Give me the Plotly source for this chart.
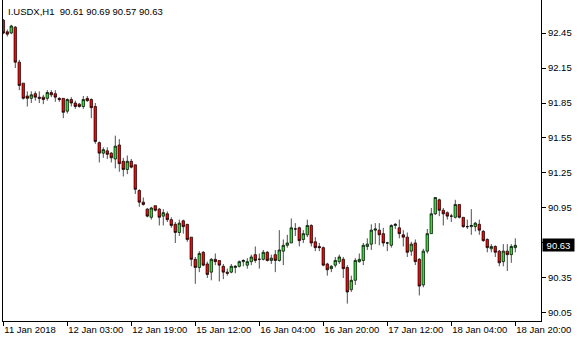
import plotly.graph_objects as go

symbol = "I.USDX,H1"

opens = [92.56, 92.46, 92.45, 92.50, 92.20, 92.02, 91.91, 91.89, 91.93, 91.90,
         91.90, 91.89, 91.94, 91.93, 91.89, 91.89, 91.78, 91.88, 91.85, 91.84,
         91.82, 91.89, 91.88, 91.82, 91.51, 91.42, 91.44, 91.42, 91.37, 91.49,
         91.35, 91.28, 91.35, 91.32, 91.10, 91.00, 90.94, 90.87, 90.97, 90.94,
         90.88, 90.90, 90.85, 90.81, 90.74, 90.84, 90.81, 90.70, 90.51, 90.44,
         90.57, 90.47, 90.40, 90.51, 90.50, 90.45, 90.40, 90.40, 90.44, 90.45,
         90.49, 90.46, 90.49, 90.55, 90.51, 90.51, 90.57, 90.50, 90.55, 90.50,
         90.58, 90.63, 90.65, 90.77, 90.78, 90.68, 90.72, 90.80, 90.66, 90.62,
         90.61, 90.47, 90.43, 90.46, 90.49, 90.51, 90.44, 90.25, 90.33, 90.49,
         90.50, 90.62, 90.64, 90.76, 90.76, 90.73, 90.65, 90.63, 90.80, 90.78,
         90.72, 90.70, 90.58, 90.65, 90.51, 90.29, 90.58, 90.73, 90.90, 91.02,
         90.93, 90.91, 90.88, 90.87, 90.98, 90.87, 90.79, 90.79, 90.79, 90.81,
         90.75, 90.68, 90.60, 90.62, 90.58, 90.49, 90.58, 90.55, 90.61]
highs = [92.57, 92.48, 92.52, 92.51, 92.22, 92.02, 91.95, 91.95, 91.95, 91.95,
         91.92, 91.96, 91.96, 91.96, 91.90, 91.89, 91.89, 91.90, 91.87, 91.85,
         91.91, 91.91, 91.89, 91.85, 91.52, 91.47, 91.47, 91.43, 91.57, 91.54,
         91.38, 91.40, 91.37, 91.32, 91.11, 91.04, 90.95, 90.96, 90.97, 90.95,
         90.94, 90.92, 90.87, 90.83, 90.85, 90.85, 90.81, 90.70, 90.53, 90.58,
         90.58, 90.49, 90.52, 90.56, 90.50, 90.47, 90.43, 90.47, 90.46, 90.50,
         90.51, 90.52, 90.55, 90.62, 90.56, 90.59, 90.58, 90.55, 90.59, 90.76,
         90.68, 90.72, 90.86, 90.82, 90.79, 90.76, 90.85, 90.81, 90.70, 90.65,
         90.62, 90.48, 90.46, 90.53, 90.55, 90.53, 90.46, 90.37, 90.52, 90.56,
         90.65, 90.69, 90.81, 90.82, 90.82, 90.78, 90.66, 90.81, 90.82, 90.85,
         90.76, 90.74, 90.66, 90.68, 90.52, 90.60, 90.77, 90.95, 91.04, 91.03,
         90.95, 90.92, 90.90, 91.02, 90.98, 90.87, 90.85, 90.94, 90.83, 90.85,
         90.76, 90.69, 90.64, 90.63, 90.59, 90.64, 90.64, 90.64, 90.69]
lows = [92.44, 92.42, 92.44, 92.15, 91.96, 91.88, 91.82, 91.85, 91.87, 91.85,
        91.84, 91.87, 91.90, 91.86, 91.86, 91.72, 91.76, 91.82, 91.80, 91.81,
        91.80, 91.86, 91.72, 91.50, 91.34, 91.38, 91.37, 91.34, 91.29, 91.26,
        91.22, 91.24, 91.29, 91.07, 90.96, 90.97, 90.87, 90.85, 90.92, 90.80,
        90.80, 90.83, 90.78, 90.65, 90.71, 90.73, 90.66, 90.45, 90.30, 90.40,
        90.45, 90.35, 90.33, 90.46, 90.32, 90.34, 90.37, 90.39, 90.39, 90.44,
        90.45, 90.43, 90.46, 90.48, 90.43, 90.50, 90.49, 90.47, 90.40, 90.49,
        90.46, 90.61, 90.65, 90.71, 90.62, 90.65, 90.70, 90.62, 90.58, 90.58,
        90.45, 90.37, 90.40, 90.44, 90.47, 90.35, 90.13, 90.23, 90.29, 90.48,
        90.46, 90.59, 90.59, 90.64, 90.63, 90.62, 90.58, 90.61, 90.77, 90.69,
        90.62, 90.53, 90.54, 90.46, 90.20, 90.27, 90.56, 90.73, 90.89, 90.88,
        90.80, 90.85, 90.83, 90.86, 90.86, 90.78, 90.77, 90.72, 90.75, 90.72,
        90.66, 90.57, 90.57, 90.53, 90.45, 90.45, 90.41, 90.48, 90.57]
closes = [92.45, 92.44, 92.51, 92.20, 92.00, 91.89, 91.89, 91.92, 91.90, 91.89,
          91.88, 91.94, 91.92, 91.90, 91.88, 91.77, 91.88, 91.85, 91.82, 91.82,
          91.88, 91.87, 91.81, 91.52, 91.42, 91.45, 91.41, 91.38, 91.48, 91.33,
          91.28, 91.35, 91.30, 91.11, 91.00, 90.98, 90.88, 90.95, 90.93, 90.87,
          90.91, 90.85, 90.80, 90.74, 90.82, 90.79, 90.68, 90.51, 90.44, 90.56,
          90.46, 90.38, 90.51, 90.49, 90.46, 90.40, 90.39, 90.45, 90.45, 90.49,
          90.50, 90.49, 90.53, 90.50, 90.51, 90.57, 90.50, 90.52, 90.50, 90.59,
          90.63, 90.65, 90.78, 90.77, 90.67, 90.73, 90.80, 90.65, 90.61, 90.61,
          90.46, 90.42, 90.45, 90.50, 90.53, 90.43, 90.23, 90.33, 90.50, 90.51,
          90.63, 90.64, 90.76, 90.77, 90.72, 90.65, 90.65, 90.80, 90.81, 90.73,
          90.70, 90.57, 90.64, 90.49, 90.28, 90.58, 90.73, 90.90, 91.04, 90.93,
          90.90, 90.88, 90.88, 90.98, 90.87, 90.79, 90.79, 90.80, 90.82, 90.76,
          90.67, 90.61, 90.62, 90.57, 90.48, 90.58, 90.55, 90.62, 90.63]

time_labels = ["11 Jan 2018", "12 Jan 03:00", "12 Jan 19:00", "15 Jan 12:00",
               "16 Jan 04:00", "16 Jan 20:00", "17 Jan 12:00", "18 Jan 04:00",
               "18 Jan 20:00"]
bars_per_label = 16
price_ticks = [90.05, 90.35, 90.65, 90.95, 91.25, 91.55, 91.85, 92.15, 92.45]

FONT = "Liberation Sans"
bars = list(range(len(opens)))
last_price = closes[-1]

fig = go.Figure(go.Candlestick(
    x=bars, open=opens, high=highs, low=lows, close=closes,
    increasing=dict(line=dict(color="black", width=0.7), fillcolor="#2ee02e"),
    decreasing=dict(line=dict(color="black", width=0.7), fillcolor="#ff0000"),
    whiskerwidth=0, hoverinfo="skip", showlegend=False,
))

# the scale label hidden behind the current-price box is left blank
tick_text = ["" if abs(p - last_price) < 0.1 else f"{p:.2f}" for p in price_ticks]

fig.update_layout(
    width=580, height=340,
    margin=dict(l=3, r=39, t=0, b=19),
    paper_bgcolor="white", plot_bgcolor="white",
    font=dict(family=FONT, size=9.5, color="black"),
    showlegend=False,
    boxgap=0.1,
    xaxis=dict(
        range=[-0.075, 134.425],
        tickvals=[i * bars_per_label for i in range(len(time_labels))],
        ticktext=time_labels,
        ticks="outside", ticklen=4, tickcolor="black", tickwidth=1,
        ticklabelposition="outside right",
        showgrid=False, zeroline=False,
        showline=True, linecolor="black", linewidth=1, mirror=False,
        rangeslider=dict(visible=False),
        tickfont=dict(family=FONT, size=9.5, color="black"),
        fixedrange=True,
    ),
    yaxis=dict(
        side="right",
        range=[89.981, 92.733],
        tickvals=price_ticks, ticktext=tick_text,
        ticks="outside", ticklen=4, tickcolor="black", tickwidth=1,
        showgrid=False, zeroline=False,
        showline=True, linecolor="black", linewidth=1, mirror=True,
        tickfont=dict(family=FONT, size=9.5, color="black"),
        fixedrange=True,
    ),
)

nb = "\u00a0"
header = (f"{symbol}{nb}{nb}{opens[-1]:.2f} {highs[-1]:.2f} "
          f"{lows[-1]:.2f} {closes[-1]:.2f}")
fig.add_annotation(
    text=header, xref="paper", yref="paper", x=0, y=1,
    xanchor="left", yanchor="top", xshift=3, yshift=-4,
    showarrow=False, font=dict(family=FONT, size=9.5, color="black"),
)
fig.add_annotation(
    text=f"{last_price:.2f}", xref="paper", yref="y", x=1, y=last_price,
    xanchor="left", yanchor="middle", xshift=1,
    showarrow=False, bgcolor="black", borderpad=1, width=29, height=10,
    font=dict(family=FONT, size=9.5, color="white"),
)

fig.write_html("out.html")
